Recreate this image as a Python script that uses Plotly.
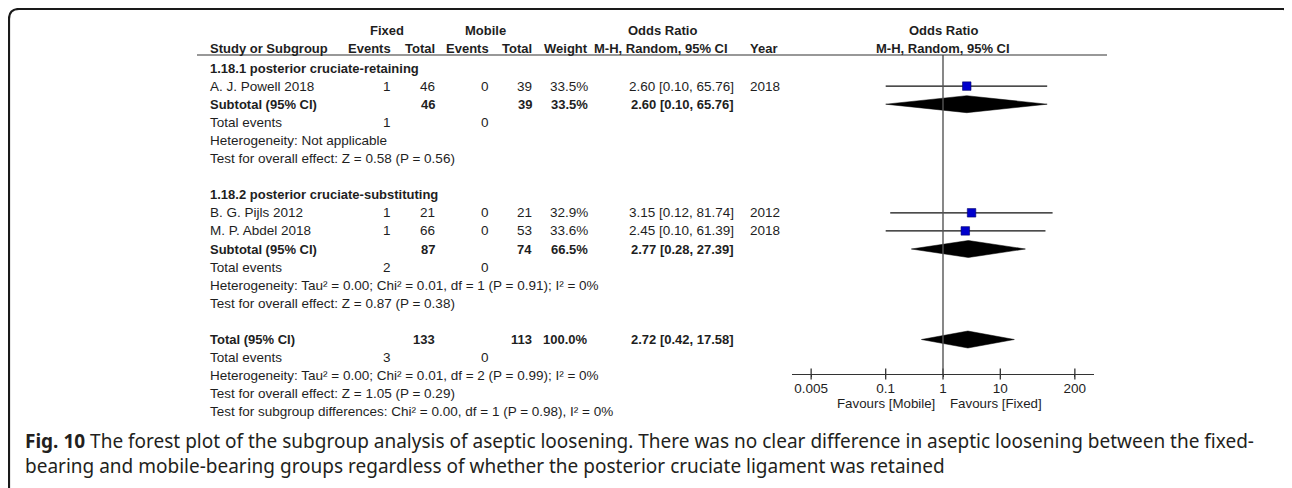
import plotly.graph_objects as go

W, H = 1292, 488

# ---------------- data ----------------
subgroup_names = ["1.18.1 posterior cruciate-retaining", "1.18.2 posterior cruciate-substituting"]
study_names = ["A. J. Powell 2018", "B. G. Pijls 2012", "M. P. Abdel 2018"]
study_group = [0, 1, 1]
fixed_events = [1, 1, 1]
fixed_total = [46, 21, 66]
mobile_events = [0, 0, 0]
mobile_total = [39, 21, 53]
weights = [33.5, 32.9, 33.6]
odds = [2.60, 3.15, 2.45]
ci_low = [0.10, 0.12, 0.10]
ci_high = [65.76, 81.74, 61.39]
years = [2018, 2012, 2018]

sub_fixed_events = [1, 2]
sub_mobile_events = [0, 0]
sub_fixed_total = [46, 87]
sub_mobile_total = [39, 74]
sub_weight = [33.5, 66.5]
sub_or = [2.60, 2.77]
sub_low = [0.10, 0.28]
sub_high = [65.76, 27.39]
sub_het = ["Heterogeneity: Not applicable",
           "Heterogeneity: Tau² = 0.00; Chi² = 0.01, df = 1 (P = 0.91); I² = 0%"]
sub_effect = ["Test for overall effect: Z = 0.58 (P = 0.56)",
              "Test for overall effect: Z = 0.87 (P = 0.38)"]

tot_fixed_events = 3
tot_mobile_events = 0
tot_fixed_total = 133
tot_mobile_total = 113
tot_weight = 100.0
tot_or = 2.72
tot_low = 0.42
tot_high = 17.58
tot_het = "Heterogeneity: Tau² = 0.00; Chi² = 0.01, df = 2 (P = 0.99); I² = 0%"
tot_effect = "Test for overall effect: Z = 1.05 (P = 0.29)"
subgroup_diff = "Test for subgroup differences: Chi² = 0.00, df = 1 (P = 0.98), I² = 0%"

tick_vals = [0.005, 0.1, 1, 10, 200]
tick_text = ["0.005", "0.1", "1", "10", "200"]
favours_left = "Favours [Mobile]"
favours_right = "Favours [Fixed]"
caption_bold = "Fig. 10"
caption_line1 = (" The forest plot of the subgroup analysis of aseptic loosening. There was no clear "
                 "difference in aseptic loosening between the fixed-")
caption_line2 = ("bearing and mobile-bearing groups regardless of whether the posterior cruciate "
                 "ligament was retained")

# ---------------- layout constants (page pixels) ----------------
OX, OY = 8, 8          # default body margin of the html page
FONT = "Liberation Sans, Arial, sans-serif"
TXT = "#1e1e1e"
REG = 13.5
BLD = 13
ROW0 = 68.0
STEP = 18.1
HDR1_Y = 31.0
HDR2_Y = 49.0
UNDER_Y = 55.0
AXIS_Y = 374.0
X_STUDY = 209
X_FE, X_FT, X_ME, X_MT, X_W = 392, 436, 490, 533, 589
X_OR = 735
X_YEAR = 749
PLOT_L, PLOT_R = 792, 1094
HALF_DEC = 2.635

annotations = []


def px(x):
    return (x - OX) / W


def py(y):
    return 1 - (y - OY) / H


def txt(x, y, s, anchor="left", bold=False, size=REG, family=FONT, color=TXT):
    if bold:
        s = "<b>" + s + "</b>"
    annotations.append(dict(x=px(x), y=py(y), xref="paper", yref="paper", text=s,
                            showarrow=False, xanchor=anchor, yanchor="middle",
                            align="left", borderpad=0,
                            font=dict(family=family, size=size, color=color)))


def ci_text(o, l, h):
    return f"{o:.2f} [{l:.2f}, {h:.2f}]"


# headers
txt(387, HDR1_Y, "Fixed", "center", True, BLD)
txt(485, HDR1_Y, "Mobile", "center", True, BLD)
txt(662, HDR1_Y, "Odds Ratio", "center", True, BLD)
txt((PLOT_L + PLOT_R) / 2, HDR1_Y, "Odds Ratio", "center", True, BLD)
txt(X_STUDY, HDR2_Y, "Study or Subgroup", "left", True, BLD)
txt(X_FE, HDR2_Y, "Events", "right", True, BLD)
txt(X_FT, HDR2_Y, "Total", "right", True, BLD)
txt(X_ME, HDR2_Y, "Events", "right", True, BLD)
txt(X_MT, HDR2_Y, "Total", "right", True, BLD)
txt(X_W, HDR2_Y, "Weight", "right", True, BLD)
txt(661, HDR2_Y, "M-H, Random, 95% CI", "center", True, BLD)
txt(X_YEAR, HDR2_Y, "Year", "left", True, BLD)
txt((PLOT_L + PLOT_R) / 2, HDR2_Y, "M-H, Random, 95% CI", "center", True, BLD)

# rows
row = 0
study_rows, sub_rows = [], []
for g, gname in enumerate(subgroup_names):
    y = ROW0 + STEP * row
    txt(X_STUDY, y, gname, "left", True, BLD)
    row += 1
    for i, name in enumerate(study_names):
        if study_group[i] != g:
            continue
        y = ROW0 + STEP * row
        study_rows.append(y)
        txt(X_STUDY, y, name)
        txt(X_FE, y, str(fixed_events[i]), "right")
        txt(X_FT, y, str(fixed_total[i]), "right")
        txt(X_ME, y, str(mobile_events[i]), "right")
        txt(X_MT, y, str(mobile_total[i]), "right")
        txt(X_W, y, f"{weights[i]:.1f}%", "right")
        txt(X_OR, y, ci_text(odds[i], ci_low[i], ci_high[i]), "right")
        txt(X_YEAR, y, str(years[i]), "left")
        row += 1
    y = ROW0 + STEP * row
    sub_rows.append(y)
    txt(X_STUDY, y, "Subtotal (95% CI)", "left", True, BLD)
    txt(X_FT, y, str(sub_fixed_total[g]), "right", True, BLD)
    txt(X_MT, y, str(sub_mobile_total[g]), "right", True, BLD)
    txt(X_W, y, f"{sub_weight[g]:.1f}%", "right", True, BLD)
    txt(X_OR, y, ci_text(sub_or[g], sub_low[g], sub_high[g]), "right", True, BLD)
    row += 1
    y = ROW0 + STEP * row
    txt(X_STUDY, y, "Total events")
    txt(X_FE, y, str(sub_fixed_events[g]), "right")
    txt(X_ME, y, str(sub_mobile_events[g]), "right")
    row += 1
    txt(X_STUDY, ROW0 + STEP * row, sub_het[g])
    row += 1
    txt(X_STUDY, ROW0 + STEP * row, sub_effect[g])
    row += 2

y = ROW0 + STEP * row
tot_row = y
txt(X_STUDY, y, "Total (95% CI)", "left", True, BLD)
txt(X_FT, y, str(tot_fixed_total), "right", True, BLD)
txt(X_MT, y, str(tot_mobile_total), "right", True, BLD)
txt(X_W, y, f"{tot_weight:.1f}%", "right", True, BLD)
txt(X_OR, y, ci_text(tot_or, tot_low, tot_high), "right", True, BLD)
row += 1
y = ROW0 + STEP * row
txt(X_STUDY, y, "Total events")
txt(X_FE, y, str(tot_fixed_events), "right")
txt(X_ME, y, str(tot_mobile_events), "right")
row += 1
txt(X_STUDY, ROW0 + STEP * row, tot_het)
row += 1
txt(X_STUDY, ROW0 + STEP * row, tot_effect)
row += 1
txt(X_STUDY, ROW0 + STEP * row, subgroup_diff)

# favours labels
txt(936, 403, favours_left, "right", size=13.3)
txt(949, 403, favours_right, "left", size=13.3)

# caption (one text block, two lines)
CAP_FONT = "Noto Sans, Open Sans, sans-serif"
txt(24, 453, "<b>" + caption_bold + "</b>" + caption_line1 + "<br>" + caption_line2,
    "left", size=19, family=CAP_FONT, color="#231f20")

# ---------------- traces ----------------
fig = go.Figure()

fig.add_trace(go.Scatter(
    x=odds, y=study_rows, mode="markers",
    marker=dict(symbol="square", size=8.5, color="#0000cc", line=dict(width=0.6, color="#00006a")),
    error_x=dict(type="data", symmetric=False,
                 array=[h - o for h, o in zip(ci_high, odds)],
                 arrayminus=[o - l for o, l in zip(odds, ci_low)],
                 color="#111111", thickness=1.2, width=0),
    hoverinfo="skip", showlegend=False))

DH = 8.5
dia = [(sub_or[g], sub_low[g], sub_high[g], sub_rows[g]) for g in range(len(sub_or))]
dia.append((tot_or, tot_low, tot_high, tot_row))
for o, l, h, yc in dia:
    fig.add_trace(go.Scatter(
        x=[l, o, h, o, l], y=[yc, yc - DH, yc, yc + DH, yc],
        mode="lines", fill="toself", fillcolor="#000000",
        line=dict(color="#000000", width=0.5), hoverinfo="skip", showlegend=False))

fig.add_trace(go.Scatter(
    x=tick_vals, y=[AXIS_Y] * len(tick_vals), mode="markers",
    marker=dict(symbol="line-ns", size=8, line=dict(width=1.3, color="#333333")),
    cliponaxis=False, hoverinfo="skip", showlegend=False))

shapes = []
shapes.append(dict(type="line", xref="x", yref="y", x0=1, x1=1, y0=UNDER_Y, y1=AXIS_Y,
                   line=dict(color="#555555", width=1.4)))
shapes.append(dict(type="line", xref="paper", yref="paper", x0=px(197), x1=px(1107),
                   y0=py(UNDER_Y), y1=py(UNDER_Y), line=dict(color="#333333", width=1.2)))
path = (f"M {px(9)},{py(H + 20)} L {px(9)},{py(19)} Q {px(9)},{py(9)} {px(19)},{py(9)} "
        f"L {px(1283)},{py(9)} Q {px(1289)},{py(9)} {px(1293)},{py(15)}")
shapes.append(dict(type="path", xref="paper", yref="paper", path=path,
                   line=dict(color="#1a1a1a", width=2.2)))

fig.update_layout(
    width=W, height=H,
    margin=dict(l=0, r=0, t=0, b=0),
    paper_bgcolor="white", plot_bgcolor="white",
    showlegend=False,
    annotations=annotations,
    shapes=shapes,
    xaxis=dict(type="log", range=[-HALF_DEC, HALF_DEC], domain=[px(PLOT_L), px(PLOT_R)],
               anchor="y", showline=True, linecolor="#333333", linewidth=1.4,
               ticks="outside", ticklen=2, tickwidth=1.3, tickcolor="#333333",
               tickvals=tick_vals, ticktext=tick_text,
               tickfont=dict(family=FONT, size=13.5, color=TXT),
               showgrid=False, zeroline=False, fixedrange=True),
    yaxis=dict(range=[AXIS_Y, UNDER_Y], domain=[py(AXIS_Y), py(UNDER_Y)],
               visible=False, showgrid=False, zeroline=False, fixedrange=True),
)

fig.write_html("out.html")
